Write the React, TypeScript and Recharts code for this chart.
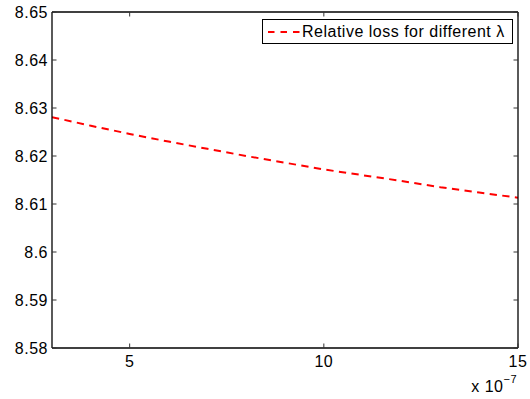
import React from 'react';
import { LineChart, Line, XAxis, YAxis } from 'recharts';

// lambda values, in units of 1e-7
const lambdaScaled = [3, 4, 5, 6, 7, 8, 9, 10, 11, 12, 13, 14, 15];
const relativeLoss = [8.6281, 8.6263, 8.6246, 8.623, 8.6215, 8.62, 8.6186, 8.6172, 8.616, 8.6148, 8.6135, 8.6124, 8.6113];
const xTicks = [5, 10, 15];
const yTicks = [8.58, 8.59, 8.6, 8.61, 8.62, 8.63, 8.64, 8.65];
const seriesName = 'Relative loss for different λ';

const data = lambdaScaled.map((x, i) => ({ x, y: relativeLoss[i] }));

const FONT = '"Liberation Sans", Arial, Helvetica, sans-serif';
const FS = 16;
const LS = 0.5;
const TICK_LEN = 4.5;
const TICK_COLOR = '#333';

const fmtY = (v: number) => String(Number(v.toFixed(2)));

const LeftTick = (props: any) => {
  const { x, y, payload } = props;
  const ax = x + 4;
  return (
    <g>
      <line x1={ax} x2={ax + TICK_LEN} y1={y} y2={y} stroke={TICK_COLOR} strokeWidth={1} />
      <text x={x} y={y} dy={5.6} textAnchor="end" fontFamily={FONT} fontSize={FS} letterSpacing={LS} fill="#000">
        {fmtY(payload.value)}
      </text>
    </g>
  );
};

const RightTick = (props: any) => {
  const { x, y } = props;
  return <line x1={x} x2={x - TICK_LEN} y1={y} y2={y} stroke={TICK_COLOR} strokeWidth={1} />;
};

const BottomTick = (props: any) => {
  const { x, y, payload } = props;
  return (
    <g>
      <line x1={x} x2={x} y1={y} y2={y - TICK_LEN} stroke={TICK_COLOR} strokeWidth={1} />
      <text x={x} y={y} dy={19.3} textAnchor="middle" fontFamily={FONT} fontSize={FS} letterSpacing={LS} fill="#000">
        {String(payload.value)}
      </text>
    </g>
  );
};

const TopTick = (props: any) => {
  const { x, y } = props;
  return <line x1={x} x2={x} y1={y} y2={y + TICK_LEN} stroke={TICK_COLOR} strokeWidth={1} />;
};

const ExpLabel = (props: any) => {
  const vb = props.viewBox || {};
  const right = (vb.x || 0) + (vb.width || 0);
  const top = vb.y || 0;
  return (
    <text x={right - 1} y={top + 43.7} textAnchor="end" fontFamily={FONT} fontSize={FS} letterSpacing={LS} fill="#000">
      x 10
      <tspan dy={-9} fontSize={11}>−7</tspan>
    </text>
  );
};

const LegendBox = () => (
  <div
    style={{
      position: 'absolute',
      left: 262,
      top: 19,
      width: 251,
      height: 25,
      boxSizing: 'border-box',
      border: '1px solid #000',
      background: '#fff',
      display: 'flex',
      alignItems: 'center',
      fontFamily: FONT,
      fontSize: FS,
      letterSpacing: LS,
      color: '#000',
      whiteSpace: 'nowrap',
    }}
  >
    <svg width={38} height={10} style={{ marginLeft: 5, flex: 'none' }}>
      <line x1={0} x2={32} y1={5} y2={5} stroke="#ff0000" strokeWidth={2} strokeDasharray="6.5 6" />
    </svg>
    <span style={{ marginLeft: -4 }}>{seriesName}</span>
  </div>
);

export default function App() {
  return (
    <div style={{ position: 'absolute', left: 0, top: 0, width: 530, height: 399, background: '#fff' }}>
      <LineChart width={530} height={399} data={data} margin={{ top: 11, right: 11, bottom: 0, left: 0 }}>
        <XAxis
          xAxisId="b"
          dataKey="x"
          type="number"
          domain={[3, 15]}
          ticks={xTicks}
          allowDataOverflow
          height={51}
          tickSize={0}
          tickMargin={0}
          tickLine={false}
          axisLine={{ stroke: '#000', strokeWidth: 1.3 }}
          tick={<BottomTick />}
          interval={0}
          label={<ExpLabel />}
        />
        <XAxis
          xAxisId="t"
          orientation="top"
          dataKey="x"
          type="number"
          domain={[3, 15]}
          ticks={xTicks}
          allowDataOverflow
          height={1}
          tickSize={0}
          tickMargin={0}
          tickLine={false}
          axisLine={{ stroke: '#000', strokeWidth: 1.3 }}
          tick={<TopTick />}
          interval={0}
        />
        <YAxis
          yAxisId="l"
          type="number"
          domain={[8.58, 8.65]}
          ticks={yTicks}
          allowDataOverflow
          width={52}
          tickSize={0}
          tickMargin={4}
          tickLine={false}
          axisLine={{ stroke: '#000', strokeWidth: 1.3 }}
          tick={<LeftTick />}
          interval={0}
        />
        <YAxis
          yAxisId="r"
          orientation="right"
          type="number"
          domain={[8.58, 8.65]}
          ticks={yTicks}
          allowDataOverflow
          width={1}
          tickSize={0}
          tickMargin={0}
          tickLine={false}
          axisLine={{ stroke: '#000', strokeWidth: 1.3 }}
          tick={<RightTick />}
          interval={0}
        />
        <Line
          xAxisId="b"
          yAxisId="l"
          dataKey="y"
          name={seriesName}
          type="linear"
          stroke="#ff0000"
          strokeWidth={2}
          strokeDasharray="7.3 5.4"
          dot={false}
          activeDot={false}
          isAnimationActive={false}
        />
      </LineChart>
      <LegendBox />
    </div>
  );
}
